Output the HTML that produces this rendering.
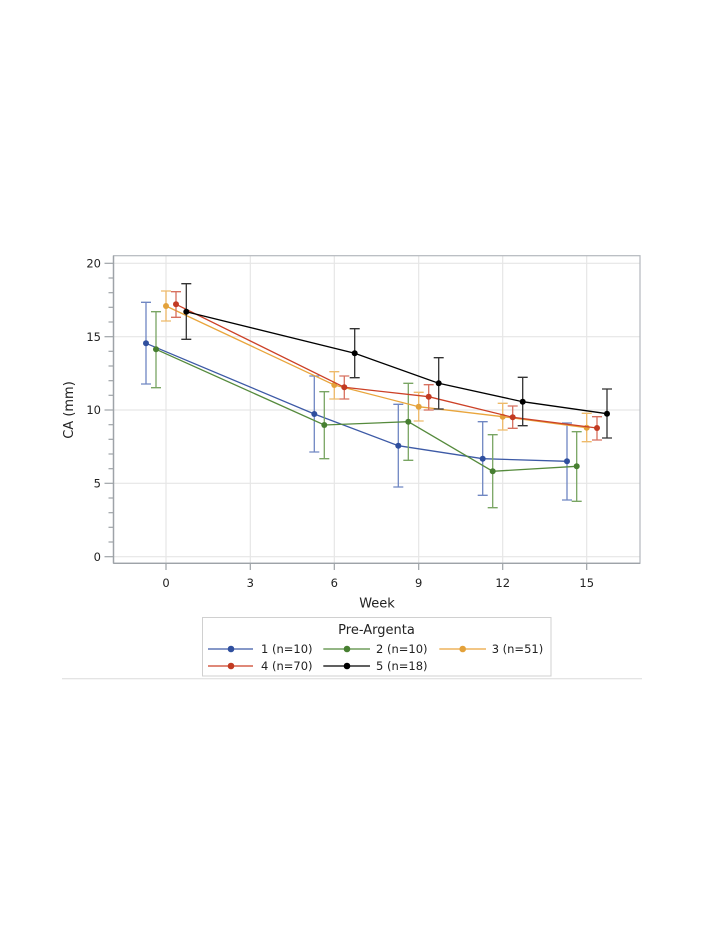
<!DOCTYPE html>
<html>
<head>
<meta charset="utf-8">
<style>
html,body{margin:0;padding:0;background:#fff;}
svg{display:block;}
text{font-family:"DejaVu Sans","Liberation Sans",sans-serif;fill:#222;}
</style>
</head>
<body>
<svg width="706" height="934" viewBox="0 0 706 934" xmlns="http://www.w3.org/2000/svg">
  <!-- gridlines -->
  <g stroke="#e6e6e6" stroke-width="1.2">
    <line x1="114" y1="263.3" x2="640" y2="263.3"/>
    <line x1="114" y1="336.7" x2="640" y2="336.7"/>
    <line x1="114" y1="410" x2="640" y2="410"/>
    <line x1="114" y1="483.3" x2="640" y2="483.3"/>
    <line x1="114" y1="556.7" x2="640" y2="556.7"/>
    <line x1="166" y1="256" x2="166" y2="563"/>
    <line x1="250.3" y1="256" x2="250.3" y2="563"/>
    <line x1="334.3" y1="256" x2="334.3" y2="563"/>
    <line x1="418.7" y1="256" x2="418.7" y2="563"/>
    <line x1="502.7" y1="256" x2="502.7" y2="563"/>
    <line x1="586.7" y1="256" x2="586.7" y2="563"/>
  </g>
  <!-- frame -->
  <rect x="113.5" y="255.7" width="526.5" height="307.6" fill="none" stroke="#b4b8bd" stroke-width="1.2"/>
  <line x1="113.5" y1="255.7" x2="113.5" y2="563.3" stroke="#9ea3a8" stroke-width="1.4"/>
  <line x1="113.5" y1="563.3" x2="640" y2="563.3" stroke="#9ea3a8" stroke-width="1.4"/>
  <!-- y ticks -->
  <g stroke="#9ea3a8" stroke-width="1.2">
    <line x1="104.5" y1="263.3" x2="113.5" y2="263.3"/>
    <line x1="104.5" y1="336.7" x2="113.5" y2="336.7"/>
    <line x1="104.5" y1="410" x2="113.5" y2="410"/>
    <line x1="104.5" y1="483.3" x2="113.5" y2="483.3"/>
    <line x1="104.5" y1="556.7" x2="113.5" y2="556.7"/>
    <line x1="108.5" y1="278" x2="113.5" y2="278"/>
    <line x1="108.5" y1="292.7" x2="113.5" y2="292.7"/>
    <line x1="108.5" y1="307.3" x2="113.5" y2="307.3"/>
    <line x1="108.5" y1="322" x2="113.5" y2="322"/>
    <line x1="108.5" y1="351.3" x2="113.5" y2="351.3"/>
    <line x1="108.5" y1="366" x2="113.5" y2="366"/>
    <line x1="108.5" y1="380.7" x2="113.5" y2="380.7"/>
    <line x1="108.5" y1="395.3" x2="113.5" y2="395.3"/>
    <line x1="108.5" y1="424.7" x2="113.5" y2="424.7"/>
    <line x1="108.5" y1="439.3" x2="113.5" y2="439.3"/>
    <line x1="108.5" y1="454" x2="113.5" y2="454"/>
    <line x1="108.5" y1="468.7" x2="113.5" y2="468.7"/>
    <line x1="108.5" y1="498" x2="113.5" y2="498"/>
    <line x1="108.5" y1="512.7" x2="113.5" y2="512.7"/>
    <line x1="108.5" y1="527.3" x2="113.5" y2="527.3"/>
    <line x1="108.5" y1="542" x2="113.5" y2="542"/>
    <!-- x ticks -->
    <line x1="166" y1="563.3" x2="166" y2="570"/>
    <line x1="250.3" y1="563.3" x2="250.3" y2="570"/>
    <line x1="334.3" y1="563.3" x2="334.3" y2="570"/>
    <line x1="418.7" y1="563.3" x2="418.7" y2="570"/>
    <line x1="502.7" y1="563.3" x2="502.7" y2="570"/>
    <line x1="586.7" y1="563.3" x2="586.7" y2="570"/>
  </g>
  <!-- y tick labels -->
  <g font-size="11.5" text-anchor="end">
    <text x="101" y="267.5">20</text>
    <text x="101" y="340.9">15</text>
    <text x="101" y="414.2">10</text>
    <text x="101" y="487.5">5</text>
    <text x="101" y="560.9">0</text>
  </g>
  <!-- x tick labels -->
  <g font-size="11.5" text-anchor="middle">
    <text x="166" y="587">0</text>
    <text x="250.3" y="587">3</text>
    <text x="334.3" y="587">6</text>
    <text x="418.7" y="587">9</text>
    <text x="502.7" y="587">12</text>
    <text x="586.7" y="587">15</text>
  </g>
  <!-- axis labels -->
  <text x="377" y="607.5" font-size="13" text-anchor="middle">Week</text>
  <text transform="translate(73,410) rotate(-90)" font-size="13" text-anchor="middle">CA (mm)</text>

  <!-- Series 1 blue -->
  <g stroke="#6f86c2" stroke-width="1.3" fill="none">
    <path d="M146,302.3V384M141,302.3H151M141,384H151"/>
    <path d="M314.3,376V452M309.3,376H319.3M309.3,452H319.3"/>
    <path d="M398.3,404.3V487M393.3,404.3H403.3M393.3,487H403.3"/>
    <path d="M482.7,421.7V495.3M477.7,421.7H487.7M477.7,495.3H487.7"/>
    <path d="M567,423V500M562,423H572M562,500H572"/>
  </g>
  <polyline points="146,343.3 314.3,414 398.3,445.7 482.7,458.7 567,461.3" fill="none" stroke="#3d5aa6" stroke-width="1.3"/>
  <g fill="#2f4f9e">
    <circle cx="146" cy="343.3" r="3"/><circle cx="314.3" cy="414" r="3"/><circle cx="398.3" cy="445.7" r="3"/><circle cx="482.7" cy="458.7" r="3"/><circle cx="567" cy="461.3" r="3"/>
  </g>

  <!-- Series 2 green -->
  <g stroke="#79a563" stroke-width="1.3" fill="none">
    <path d="M156,311.7V387.7M151,311.7H161M151,387.7H161"/>
    <path d="M324.3,391.7V458.7M319.3,391.7H329.3M319.3,458.7H329.3"/>
    <path d="M408.3,383.3V460.3M403.3,383.3H413.3M403.3,460.3H413.3"/>
    <path d="M492.7,434.7V507.7M487.7,434.7H497.7M487.7,507.7H497.7"/>
    <path d="M576.7,431.7V501.3M571.7,431.7H581.7M571.7,501.3H581.7"/>
  </g>
  <polyline points="156,349.3 324.3,425 408.3,421.7 492.7,471.3 576.7,466.3" fill="none" stroke="#558a3c" stroke-width="1.3"/>
  <g fill="#477f31">
    <circle cx="156" cy="349.3" r="3"/><circle cx="324.3" cy="425" r="3"/><circle cx="408.3" cy="421.7" r="3"/><circle cx="492.7" cy="471.3" r="3"/><circle cx="576.7" cy="466.3" r="3"/>
  </g>

  <!-- Series 3 orange -->
  <g stroke="#eeba6a" stroke-width="1.3" fill="none">
    <path d="M166,291V321M161,291H171M161,321H171"/>
    <path d="M334.3,371.7V399M329.3,371.7H339.3M329.3,399H339.3"/>
    <path d="M418.7,392.3V421M413.7,392.3H423.7M413.7,421H423.7"/>
    <path d="M502.7,403.3V430M497.7,403.3H507.7M497.7,430H507.7"/>
    <path d="M586.7,413.3V441.7M581.7,413.3H591.7M581.7,441.7H591.7"/>
  </g>
  <polyline points="166,306 334.3,385 418.7,406.7 502.7,416.7 586.7,427.7" fill="none" stroke="#e9a53c" stroke-width="1.3"/>
  <g fill="#e3a13a">
    <circle cx="166" cy="306" r="3"/><circle cx="334.3" cy="385" r="3"/><circle cx="418.7" cy="406.7" r="3"/><circle cx="502.7" cy="416.7" r="3"/><circle cx="586.7" cy="427.7" r="3"/>
  </g>

  <!-- Series 4 red -->
  <g stroke="#d7705f" stroke-width="1.3" fill="none">
    <path d="M176,291.7V317.3M171,291.7H181M171,317.3H181"/>
    <path d="M344.3,376V399M339.3,376H349.3M339.3,399H349.3"/>
    <path d="M428.7,384.7V410M423.7,384.7H433.7M423.7,410H433.7"/>
    <path d="M512.7,406V428.3M507.7,406H517.7M507.7,428.3H517.7"/>
    <path d="M597,416.7V440M592,416.7H602M592,440H602"/>
  </g>
  <polyline points="176,304.3 344.3,387.3 428.7,396.7 512.7,417.3 597,428" fill="none" stroke="#cc4127" stroke-width="1.3"/>
  <g fill="#c23a22">
    <circle cx="176" cy="304.3" r="3"/><circle cx="344.3" cy="387.3" r="3"/><circle cx="428.7" cy="396.7" r="3"/><circle cx="512.7" cy="417.3" r="3"/><circle cx="597" cy="428" r="3"/>
  </g>

  <!-- Series 5 black -->
  <g stroke="#333" stroke-width="1.3" fill="none">
    <path d="M186.3,283.7V339.3M181.3,283.7H191.3M181.3,339.3H191.3"/>
    <path d="M354.7,328.7V377.7M349.7,328.7H359.7M349.7,377.7H359.7"/>
    <path d="M438.7,357.7V409M433.7,357.7H443.7M433.7,409H443.7"/>
    <path d="M522.7,377.3V425.7M517.7,377.3H527.7M517.7,425.7H527.7"/>
    <path d="M607,389V438M602,389H612M602,438H612"/>
  </g>
  <polyline points="186.3,311.7 354.7,353.3 438.7,383.3 522.7,401.7 607,413.7" fill="none" stroke="#000" stroke-width="1.3"/>
  <g fill="#000">
    <circle cx="186.3" cy="311.7" r="3"/><circle cx="354.7" cy="353.3" r="3"/><circle cx="438.7" cy="383.3" r="3"/><circle cx="522.7" cy="401.7" r="3"/><circle cx="607" cy="413.7" r="3"/>
  </g>

  <!-- Legend -->
  <rect x="202.5" y="617.5" width="348.5" height="58.5" fill="none" stroke="#d0d0d0" stroke-width="1"/>
  <text x="376.5" y="634" font-size="13" text-anchor="middle">Pre-Argenta</text>
  <g stroke-width="1.3">
    <line x1="208" y1="649" x2="253" y2="649" stroke="#3d5aa6"/>
    <line x1="323.3" y1="649" x2="370" y2="649" stroke="#558a3c"/>
    <line x1="439.3" y1="649" x2="486" y2="649" stroke="#e9a53c"/>
    <line x1="208" y1="666" x2="253" y2="666" stroke="#cc4127"/>
    <line x1="323.3" y1="666" x2="370" y2="666" stroke="#000"/>
  </g>
  <circle cx="231" cy="649" r="3.3" fill="#2f4f9e"/>
  <circle cx="347" cy="649" r="3.3" fill="#477f31"/>
  <circle cx="462.7" cy="649" r="3.3" fill="#e3a13a"/>
  <circle cx="231" cy="666" r="3.3" fill="#c23a22"/>
  <circle cx="347" cy="666" r="3.3" fill="#000"/>
  <g font-size="11.5">
    <text x="261" y="653.2">1 (n=10)</text>
    <text x="376" y="653.2">2 (n=10)</text>
    <text x="491.7" y="653.2">3 (n=51)</text>
    <text x="261" y="670.2">4 (n=70)</text>
    <text x="376" y="670.2">5 (n=18)</text>
  </g>
  <line x1="62" y1="678.7" x2="642" y2="678.7" stroke="#dcdcdc" stroke-width="1"/>
</svg>
</body>
</html>
